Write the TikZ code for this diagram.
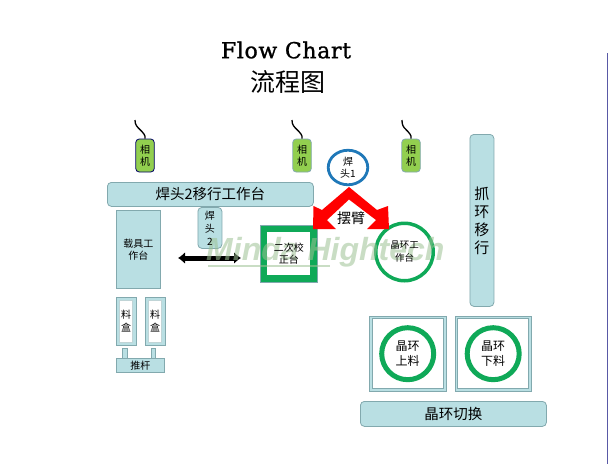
\documentclass[tikz,border=0pt]{standalone}
\usepackage{fontspec}
\setmainfont{DejaVu Serif}
\newfontfamily\cjk{Noto Sans CJK SC}
\newfontfamily\wm{Liberation Sans}
\usetikzlibrary{arrows.meta,shapes.geometric}
\definecolor{boxfill}{HTML}{B9DFE3}
\definecolor{boxline}{HTML}{82A9AE}
\definecolor{cam}{HTML}{92CF4F}
\definecolor{ringgreen}{HTML}{0FA958}
\definecolor{headblue}{HTML}{1F78B8}
\definecolor{wmark}{HTML}{9DC294}
\tikzset{
  x=1pt,y=-1pt,
  lbl/.style={font=\cjk,align=center,inner sep=0pt,text=black},
  panel/.style={draw=boxline,fill=boxfill,rounded corners=4pt,line width=.8pt,inner sep=0pt,align=center},
  flat/.style={draw=boxline,fill=boxfill,line width=.8pt,inner sep=0pt,align=center},
  camera/.style={draw=boxline,fill=cam,rounded corners=3.5pt,line width=.8pt,minimum width=18.5pt,minimum height=33pt,font=\cjk\fontsize{10}{12}\selectfont,align=center,inner sep=0pt},
  wire/.style={draw=black,line width=1.3pt},
  ringnode/.style={circle,draw=ringgreen,fill=white,inner sep=0pt},
  traybox/.style={draw=boxline,fill=boxfill,line width=.9pt,anchor=north west,inner sep=0pt},
  trayin/.style={draw=boxline!50,fill=white,line width=.5pt,inner sep=0pt},
}
\begin{document}
\begin{tikzpicture}
\useasboundingbox (0,0) rectangle (608,464);
\fill[white] (0,0) rectangle (608,464);
\coordinate (ln1) at (607.5,53);
\coordinate (ln2) at (607.5,464);
\draw[draw=gray!70!blue,line width=1pt] (ln1) -- (ln2);
% title
\node[font=\fontsize{22}{24}\selectfont,inner sep=0pt] (title) at (286,50) {\addfontfeature{LetterSpace=3,FakeBold=1.2}Flow Chart};
\node[font=\cjk\fontsize{25}{27}\selectfont,inner sep=0pt] (titlecn) at (288,82) {流程图};
% cameras
\node[camera,draw=black!60!blue] (c1) at (145,155.5) {相\\机};
\node[camera] (c2) at (302,155.5) {相\\机};
\node[camera] (c3) at (411,155.5) {相\\机};
\coordinate (w1) at (135,120);
\coordinate (w2) at (292,120);
\coordinate (w3) at (402,120);
\foreach \w/\c in {w1/c1,w2/c2,w3/c3}
  \draw[wire] (\w) .. controls +(0,5) and +(-3,-3) .. ([xshift=-5pt,yshift=9pt]\c.north) .. controls +(3,3) and +(1,-3) .. (\c.north);
% gantry
\node[panel,minimum width=206pt,minimum height=24pt,anchor=north west] (g2) at (107,182) {};
% carrier
\node[flat,minimum width=44pt,minimum height=78pt,anchor=north west] (carrier) at (116,210) {};
% head 2
\node[panel,minimum width=24pt,minimum height=41pt,anchor=north west] (h2) at (197.5,207) {};
% bidirectional arrow
\coordinate (a1) at (178,258);
\coordinate (a2) at (241,258);
\draw[line width=5pt,black,{Latex[length=7pt,width=12pt]}-{Latex[length=7pt,width=12pt]}] (a1) -- (a2);
% secondary alignment table
\node[draw=boxline,fill=ringgreen,minimum width=57pt,minimum height=57pt,anchor=north west,inner sep=0pt,line width=.6pt] (sq) at (260,225) {};
\node[fill=white,minimum width=43pt,minimum height=43pt,inner sep=0pt] (sqin) at (sq.center) {};
% wafer table
\node[ringnode,line width=3.5pt,minimum size=57.5pt] (wt) at (404.5,252) {};
% swing arm
\fill[red] (349,187) -- (377,210) -- (388,206) -- (389,229) -- (367,229) -- (376,220) -- (349,199.5) -- (327,220) -- (336,229) -- (313,229) -- (313.5,206) -- (322,210) -- cycle;
% head 1
\node[ellipse,draw=headblue,line width=2.8pt,fill=white,minimum width=39.5pt,minimum height=34.5pt,inner sep=0pt] (h1) at (348,167.5) {};
% grab
\node[panel,minimum width=24pt,minimum height=172pt,anchor=north west] (grab) at (469.5,134) {};
% trays
\node[traybox,minimum width=19.5pt,minimum height=48pt] (t1) at (116,296.5) {};
\node[trayin,minimum width=13pt,minimum height=42pt] (t1i) at (t1.center) {};
\node[traybox,minimum width=19.5pt,minimum height=48pt] (t2) at (145,296.5) {};
\node[trayin,minimum width=13pt,minimum height=42pt] (t2i) at (t2.center) {};
\node[flat,minimum width=5pt,minimum height=10pt,anchor=north west] (p1) at (121.5,348) {};
\node[flat,minimum width=4.5pt,minimum height=10pt,anchor=north west] (p2) at (150.5,348) {};
\node[flat,minimum width=48pt,minimum height=14pt,anchor=north west] (push) at (116,358) {};
% wafer load
\foreach \n/\x in {l1/369,l2/454.5}{
  \node[traybox,minimum width=76.5pt,minimum height=75.5pt] (\n) at (\x,315.5) {};
  \node[trayin,draw=boxline,minimum width=71pt,minimum height=70pt] (\n i) at (\n.center) {};
  \node[ringnode,line width=5pt,minimum size=52pt] (\n r) at (\n.center) {};
}
\node[panel,minimum width=186pt,minimum height=25pt,anchor=north west] (sw) at (360,401) {};
% watermark
\node[font=\wm\bfseries\itshape\fontsize{32}{33}\selectfont,text=wmark,text opacity=.55,inner sep=0pt,anchor=west] (wm) at (206,252) {Minda Hightech};
\coordinate (u1) at (208,266);
\coordinate (u2) at (330,266);
\draw[draw=wmark,opacity=.55,line width=1.5pt] (u1) -- (u2);
% labels
\path[every node/.style={lbl}]
  (g2.center) node[font=\cjk\fontsize{14.5}{16}\selectfont] {焊头2移行工作台}
  (carrier.center) node[yshift=-.5pt,font=\cjk\fontsize{10}{12.5}\selectfont] {载具工\\作台}
  (h2.center) node[font=\cjk\fontsize{10}{13}\selectfont] {焊\\头\\2}
  (sqin.center) node[font=\cjk\fontsize{10}{12}\selectfont] {二次校\\正台}
  (wt.center) node[font=\cjk\fontsize{9.5}{13}\selectfont] {晶环工\\作台}
  (h1.center) node[font=\cjk\fontsize{10}{12}\selectfont] {焊\\头1}
  (grab.center) node[font=\cjk\fontsize{15}{18}\selectfont] {抓\\环\\移\\行}
  (t1i.center) node[font=\cjk\fontsize{10}{13}\selectfont] {料\\盒}
  (t2i.center) node[font=\cjk\fontsize{10}{13}\selectfont] {料\\盒}
  (push.center) node[font=\cjk\fontsize{10}{11}\selectfont] {推杆}
  (l1r.center) node[font=\cjk\fontsize{12}{15}\selectfont] {晶环\\上料}
  (l2r.center) node[font=\cjk\fontsize{12}{15}\selectfont] {晶环\\下料}
  (sw.center) node[font=\cjk\fontsize{14.5}{16}\selectfont] {晶环切换};
\coordinate (armc) at (351,218);
\node[lbl,font=\cjk\fontsize{14}{16}\selectfont] (arm) at (armc) {摆臂};
\end{tikzpicture}
\end{document}
